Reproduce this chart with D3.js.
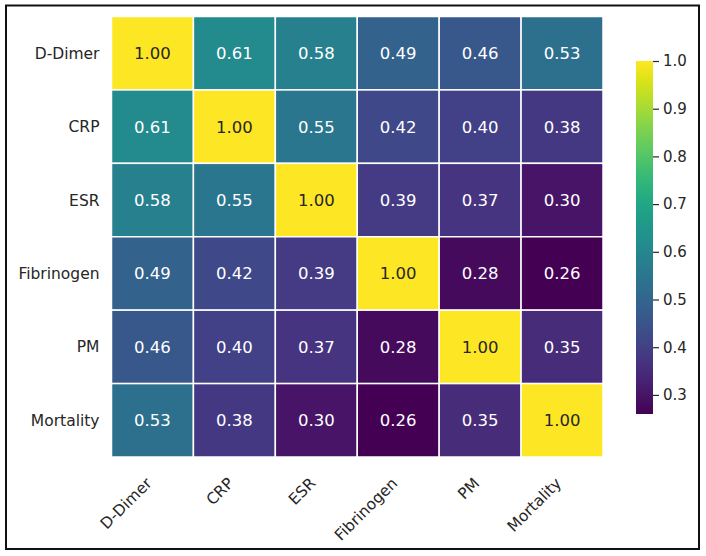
<!DOCTYPE html>
<html>
  <head>
    <meta charset="utf-8" />
    <title>Correlation Heatmap</title>
    <script src="https://d3js.org/d3.v7.min.js"></script>
    <style>
      body {
        margin: 0;
        background: #fff;
      }
      text {
        font-family: "DejaVu Sans", sans-serif;
      }
    </style>
  </head>
  <body>

    <svg id="heatmap"></svg>

    <script>

      // labels and correlation values, read row by row
      var variables = ["D-Dimer", "CRP", "ESR", "Fibrinogen", "PM", "Mortality"];
      var corrDDimer     = [1.00, 0.61, 0.58, 0.49, 0.46, 0.53];
      var corrCRP        = [0.61, 1.00, 0.55, 0.42, 0.40, 0.38];
      var corrESR        = [0.58, 0.55, 1.00, 0.39, 0.37, 0.30];
      var corrFibrinogen = [0.49, 0.42, 0.39, 1.00, 0.28, 0.26];
      var corrPM         = [0.46, 0.40, 0.37, 0.28, 1.00, 0.35];
      var corrMortality  = [0.53, 0.38, 0.30, 0.26, 0.35, 1.00];
      var colorTicks = [0.3, 0.4, 0.5, 0.6, 0.7, 0.8, 0.9, 1.0];

      var matrix = [corrDDimer, corrCRP, corrESR, corrFibrinogen, corrPM, corrMortality];

      var width = 706;
      var height = 556;
      var heat = {left: 111.5, top: 16.5, right: 603, bottom: 457};
      var bar = {left: 636, right: 653, top: 61, bottom: 414};

      var svg = d3.select("#heatmap")
        .attr("width", width)
        .attr("height", height);

      // frame round the whole figure
      svg.append("rect")
        .attr("x", 6)
        .attr("y", 5.5)
        .attr("width", 693)
        .attr("height", 543.5)
        .attr("fill", "none")
        .attr("stroke", "#111")
        .attr("stroke-width", 2);

      var cells = [];
      matrix.forEach(function(row, i) {
        row.forEach(function(v, j) {
          cells.push({row: variables[i], col: variables[j], value: v});
        });
      });

      var vmin = d3.min(cells, function(d) { return d.value; });
      var vmax = d3.max(cells, function(d) { return d.value; });

      var x = d3.scaleBand()
        .domain(variables)
        .range([heat.left, heat.right]);

      var y = d3.scaleBand()
        .domain(variables)
        .range([heat.top, heat.bottom]);

      var color = d3.scaleSequential(d3.interpolateViridis)
        .domain([vmin, vmax]);

      // cells
      svg.selectAll(".cell")
        .data(cells)
        .enter().append("rect")
        .attr("class", "cell")
        .attr("x", function(d) { return x(d.col); })
        .attr("y", function(d) { return y(d.row); })
        .attr("width", x.bandwidth())
        .attr("height", y.bandwidth())
        .attr("fill", function(d) { return color(d.value); })
        .attr("stroke", "#fff")
        .attr("stroke-width", 1.5);

      // annotations, dark text on light cells
      svg.selectAll(".annot")
        .data(cells)
        .enter().append("text")
        .attr("class", "annot")
        .attr("x", function(d) { return x(d.col) + x.bandwidth() / 2; })
        .attr("y", function(d) { return y(d.row) + y.bandwidth() / 2; })
        .attr("dy", "0.36em")
        .attr("text-anchor", "middle")
        .style("font-size", "16.5px")
        .attr("fill", function(d) {
          var c = d3.rgb(color(d.value));
          var lum = 0.2126 * c.r + 0.7152 * c.g + 0.0722 * c.b;
          return lum > 150 ? "#262626" : "#ffffff";
        })
        .text(function(d) { return d.value.toFixed(2); });

      // row labels
      svg.selectAll(".ylab")
        .data(variables)
        .enter().append("text")
        .attr("class", "ylab")
        .attr("x", heat.left - 12)
        .attr("y", function(d) { return y(d) + y.bandwidth() / 2; })
        .attr("dy", "0.36em")
        .attr("text-anchor", "end")
        .attr("fill", "#262626")
        .style("font-size", "15.5px")
        .text(function(d) { return d; });

      // column labels, turned 45 degrees
      svg.selectAll(".xlab")
        .data(variables)
        .enter().append("text")
        .attr("class", "xlab")
        .attr("transform", function(d) {
          return "translate(" + (x(d) + x.bandwidth() / 2 - 8) + "," + (heat.bottom + 19) + ") rotate(-45)";
        })
        .attr("text-anchor", "end")
        .attr("dy", "0.75em")
        .attr("fill", "#262626")
        .style("font-size", "15.5px")
        .text(function(d) { return d; });

      // colorbar
      var cbScale = d3.scaleLinear()
        .domain([vmin, vmax])
        .range([bar.bottom, bar.top]);

      var defs = svg.append("defs");
      var grad = defs.append("linearGradient")
        .attr("id", "viridis")
        .attr("x1", 0).attr("y1", 1)
        .attr("x2", 0).attr("y2", 0);

      d3.range(0, 1.0001, 0.05).forEach(function(t) {
        grad.append("stop")
          .attr("offset", t)
          .attr("stop-color", d3.interpolateViridis(t));
      });

      svg.append("rect")
        .attr("x", bar.left)
        .attr("y", bar.top)
        .attr("width", bar.right - bar.left)
        .attr("height", bar.bottom - bar.top)
        .attr("fill", "url(#viridis)");

      var cbAxis = d3.axisRight(cbScale)
        .tickValues(colorTicks)
        .tickFormat(d3.format(".1f"))
        .tickSize(6)
        .tickPadding(4);

      var cbG = svg.append("g")
        .attr("transform", "translate(" + bar.right + ",0)")
        .call(cbAxis);

      cbG.select(".domain").remove();
      cbG.selectAll(".tick line").attr("stroke", "#262626").attr("stroke-width", 1.2);
      cbG.selectAll(".tick text")
        .attr("fill", "#262626")
        .style("font-size", "15px")
        .style("font-family", "DejaVu Sans, sans-serif");

    </script>
  </body>
</html>
